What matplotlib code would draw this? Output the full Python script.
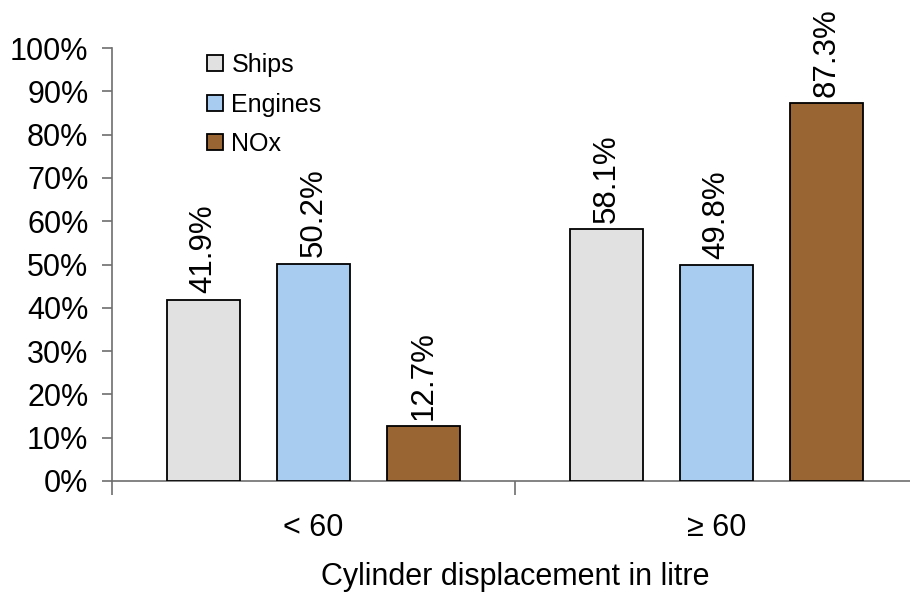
import matplotlib
matplotlib.use("Agg")
import matplotlib.pyplot as plt
import numpy as np

plt.rcParams['font.family'] = ['Liberation Sans', 'DejaVu Sans']

categories = ["< 60", "\u2265 60"]
series_names = ["Ships", "Engines", "NOx"]
ships = [41.9, 58.1]
engines = [50.2, 49.8]
nox = [12.7, 87.3]
colors = ["#E1E1E1", "#A8CBF0", "#996633"]
y_ticks = [0, 10, 20, 30, 40, 50, 60, 70, 80, 90, 100]

fig = plt.figure(figsize=(9.10, 5.94), dpi=100)
ax = fig.add_axes([112 / 910, 113 / 594, 806 / 910, 433 / 594])

centers = np.arange(len(categories)) + 0.5
width = 0.181
step = 0.273
axis_color = "#6e6e6e"

for i, (name, vals, col) in enumerate(zip(series_names, [ships, engines, nox], colors)):
    xs = centers + (i - 1) * step
    ax.bar(xs, vals, width=width, color=col, edgecolor="black",
           linewidth=1.3, label=name, zorder=3)
    for x, v in zip(xs, vals):
        ax.annotate(f"{v:.1f}%", xy=(x, v), xytext=(0, 4.5), textcoords="offset points",
                    rotation=90, ha="center", va="bottom", fontsize=22.5)

ax.set_xlim(0, 2)
ax.set_ylim(0, 100)
ax.set_yticks(y_ticks)
ax.set_yticklabels([f"{t}%" for t in y_ticks], fontsize=22)
ax.tick_params(axis="y", direction="out", length=7, width=1.2, color=axis_color, pad=10)

ax.set_xticks(centers)
ax.set_xticklabels(categories, fontsize=22)
ax.tick_params(axis="x", which="major", length=0, pad=23)
ax.set_xticks([0, 1, 2], minor=True)
ax.tick_params(axis="x", which="minor", direction="out", length=10, width=1.2, color=axis_color)

for side in ["top", "right"]:
    ax.spines[side].set_visible(False)
for side in ["left", "bottom"]:
    ax.spines[side].set_color(axis_color)
    ax.spines[side].set_linewidth(1.2)

ax.set_xlabel("Cylinder displacement in litre", fontsize=22, labelpad=14)

ax.legend(loc="upper left", bbox_to_anchor=(0.118, 0.988), frameon=False,
          fontsize=18, handlelength=0.62, handleheight=0.62, handletextpad=0.35,
          labelspacing=0.62, borderpad=0, borderaxespad=0)

fig.savefig("out.png", dpi=100)
